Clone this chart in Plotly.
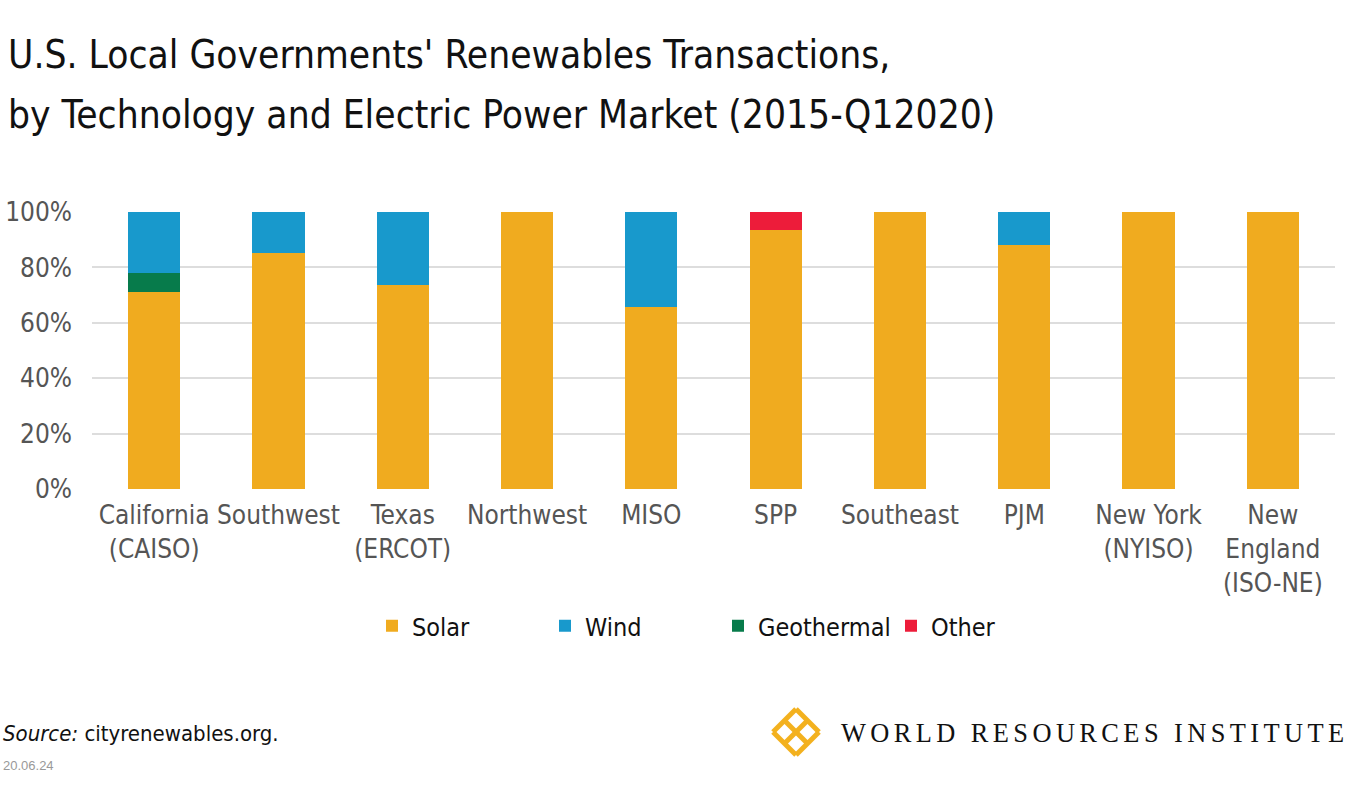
import plotly.graph_objects as go

categories = ["California<br>(CAISO)", "Southwest", "Texas<br>(ERCOT)", "Northwest", "MISO",
              "SPP", "Southeast", "PJM", "New York<br>(NYISO)", "New<br>England<br>(ISO-NE)"]
solar = [71.0, 85.3, 73.6, 100, 65.7, 93.4, 100, 88.1, 100, 100]
geothermal = [6.8, 0, 0, 0, 0, 0, 0, 0, 0, 0]
wind = [22.2, 14.7, 26.4, 0, 34.3, 0, 0, 11.9, 0, 0]
other = [0, 0, 0, 0, 0, 6.6, 0, 0, 0, 0]
tick_vals = [0, 20, 40, 60, 80, 100]
tick_text = ["0%", "20%", "40%", "60%", "80%", "100%"]
title_lines = ["U.S. Local Governments' Renewables Transactions,",
               "by Technology and Electric Power Market (2015-Q12020)"]

colors = {"Solar": "#F0AB1F", "Wind": "#1899CC", "Geothermal": "#077B4B", "Other": "#ED1C3A"}
FONT = "Liberation Sans Narrow, DejaVu Sans Condensed, Roboto, sans-serif"

W, H = 1349, 793
# plot area in page pixels: x 92..1335, y 212..489
L, R, T, B = 92, W - 1335, 212, H - 489
PW, PH = W - L - R, H - T - B


def px(x):
    return (x - L) / PW


def py(y):
    return (H - B - y) / PH


fig = go.Figure()
fig.add_trace(go.Bar(x=categories, y=solar, name="Solar", marker_color=colors["Solar"], legendrank=1))
fig.add_trace(go.Bar(x=categories, y=geothermal, name="Geothermal", marker_color=colors["Geothermal"], legendrank=3))
fig.add_trace(go.Bar(x=categories, y=wind, name="Wind", marker_color=colors["Wind"], legendrank=2))
fig.add_trace(go.Bar(x=categories, y=other, name="Other", marker_color=colors["Other"], legendrank=4))
fig.update_traces(marker_line_width=0)

fig.update_layout(
    width=W, height=H,
    margin=dict(l=L, r=R, t=T, b=B, autoexpand=False),
    barmode="stack", bargap=0.58,
    plot_bgcolor="white", paper_bgcolor="white",
    font=dict(family=FONT, color="#555555", size=26),
    legend=dict(orientation="h", x=px(372), xanchor="left", y=py(626), yanchor="middle",
                font=dict(family=FONT, size=25, color="#111111"), entrywidth=128, entrywidthmode="pixels",
                traceorder="normal", itemclick=False),
    showlegend=True,
)
fig.update_yaxes(range=[0, 100], tickvals=tick_vals, ticktext=tick_text, showgrid=True, gridcolor="#DDDDDD",
                 gridwidth=2, zeroline=False, showline=False, ticks="", ticklabelstandoff=19,
                 tickfont=dict(size=26, color="#555555"))
fig.update_xaxes(showgrid=False, showline=False, ticks="", ticklabelstandoff=8,
                 tickfont=dict(size=26, color="#555555"), tickangle=0)

# title (two lines)
for line, yc in zip(title_lines, (55, 114)):
    fig.add_annotation(text=line, x=px(6), y=py(yc), xref="paper", yref="paper",
                       xanchor="left", yanchor="middle", showarrow=False,
                       font=dict(family=FONT, size=38.6, color="#111111"))

# footer
fig.add_annotation(text="<i>Source:</i> cityrenewables.org.", x=px(1), y=py(733), xref="paper", yref="paper",
                   xanchor="left", yanchor="middle", showarrow=False, font=dict(family=FONT, size=22, color="#111111"))
fig.add_annotation(text="20.06.24", x=px(1), y=py(765), xref="paper", yref="paper",
                   xanchor="left", yanchor="middle", showarrow=False,
                   font=dict(family="Liberation Sans, Arial", size=13, color="#999999"))
hs = "\u200a\u200a"
logo = "WORLD RESOURCES INSTITUTE"
logo_txt = hs.join(list(logo))
fig.add_annotation(text=logo_txt, x=px(1346), y=py(733), xref="paper", yref="paper",
                   xanchor="right", yanchor="middle", showarrow=False,
                   font=dict(family="Liberation Serif, serif", size=26.4, color="#111111"))

# logo lattice (decorative)
cx, cy, r = 796, 732, 23
gold = "#F3B11E"
for k in (-0.5, 0.0, 0.5):
    fig.add_shape(type="line", xref="paper", yref="paper",
                  x0=px(cx - r / 2 + k * r), y0=py(cy - r / 2 - k * r),
                  x1=px(cx + r / 2 + k * r), y1=py(cy + r / 2 - k * r),
                  line=dict(color=gold, width=5))
    fig.add_shape(type="line", xref="paper", yref="paper",
                  x0=px(cx + r / 2 + k * r), y0=py(cy - r / 2 + k * r),
                  x1=px(cx - r / 2 + k * r), y1=py(cy + r / 2 + k * r),
                  line=dict(color=gold, width=5))

fig.write_html("out.html", config={"displayModeBar": False},
               post_script="document.body.style.margin='0px';")
